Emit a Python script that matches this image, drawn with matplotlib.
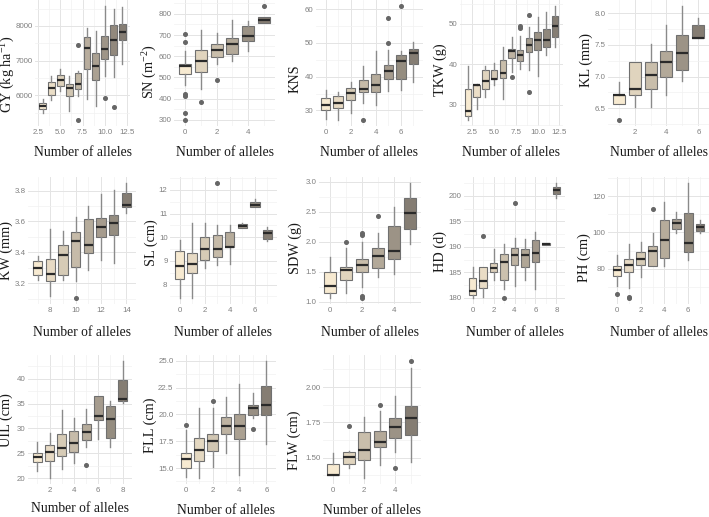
import numpy as np
import matplotlib
matplotlib.use("Agg")
import matplotlib.pyplot as plt
from matplotlib.colors import to_rgb
from matplotlib.ticker import FixedLocator, MultipleLocator

# each box: (whisker low, q1, median, q3, whisker high); outliers keyed by allele count
GY_X = list(range(3, 13))
GY_BOX = [(5500, 5600, 5690, 5770, 5900), (5856, 6000, 6200, 6394, 6558),
          (6125, 6270, 6440, 6590, 6750), (5550, 5980, 6200, 6336, 6560),
          (5980, 6170, 6320, 6650, 6700), (5885, 6750, 7375, 7680, 7930),
          (5690, 6430, 6850, 7210, 7840), (6560, 7040, 7330, 7710, 8580),
          (6530, 7160, 7600, 8030, 8500), (6910, 7590, 7810, 8050, 8530)]
GY_OUT = {7: [7440, 5280], 10: [5910], 11: [5660]}

SN_X = list(range(0, 6))
SN_BOX = [(462, 515, 554, 565, 623), (446, 526, 577, 631, 723),
          (562, 597, 631, 658, 711), (577, 612, 657, 685, 772),
          (623, 674, 695, 742, 766), (757, 757, 769, 785, 785)]
SN_OUT = {0: [703, 666, 423, 412, 331, 298], 1: [385], 2: [488], 5: [838]}

KNS_X = list(range(0, 8))
KNS_BOX = [(27.4, 30.0, 31.7, 33.7, 36.1), (27.1, 30.8, 32.2, 34.2, 35.6),
           (29.3, 33.0, 35.3, 36.6, 38.5), (32.2, 35.6, 36.4, 39.0, 43.2),
           (31.6, 35.6, 37.6, 40.8, 47.5), (35.8, 39.2, 41.7, 43.4, 47.8),
           (36.1, 39.3, 44.6, 46.5, 47.5), (38.3, 43.9, 47.0, 48.3, 50.4)]
KNS_OUT = {3: [27.2], 5: [50.0, 57.3], 6: [61.0]}

TKW_X = list(range(2, 13))
TKW_BOX = [(26.1, 27.1, 28.4, 33.8, 39.5), (29.0, 31.9, 34.9, 34.9, 35.2),
           (31.9, 33.8, 35.8, 38.5, 39.5), (34.8, 36.3, 36.4, 38.5, 40.3),
           (31.3, 36.6, 37.7, 41.1, 44.2), (38.1, 41.5, 43.3, 43.8, 46.7),
           (38.9, 40.7, 42.3, 43.4, 47.1), (38.5, 43.0, 44.8, 46.5, 49.2),
           (37.2, 43.4, 45.9, 48.1, 51.6), (42.2, 44.2, 46.1, 48.8, 52.9),
           (44.2, 46.7, 49.4, 51.9, 54.5)]
TKW_OUT = {7: [36.8], 8: [49.4, 48.9], 9: [52.1, 33.0]}

KL_X = list(range(1, 7))
KL_BOX = [(6.57, 6.57, 6.71, 6.71, 6.92), (6.52, 6.71, 6.81, 7.23, 7.23),
          (6.52, 6.81, 7.02, 7.23, 7.52), (6.71, 7.00, 7.23, 7.41, 7.82),
          (6.93, 7.10, 7.38, 7.66, 8.12), (7.61, 7.61, 7.61, 7.82, 7.92)]
KL_OUT = {1: [6.31]}

KW_X = list(range(7, 15))
KW_BOX = [(3.221, 3.256, 3.299, 3.342, 3.379), (3.120, 3.217, 3.260, 3.357, 3.552),
          (3.221, 3.256, 3.385, 3.450, 3.540), (3.217, 3.308, 3.476, 3.530, 3.627),
          (3.286, 3.394, 3.450, 3.616, 3.703), (3.350, 3.502, 3.562, 3.623, 3.778),
          (3.329, 3.513, 3.590, 3.644, 3.806), (3.653, 3.692, 3.709, 3.783, 3.850)]
KW_OUT = {10: [3.104]}

SL_X = list(range(0, 8))
SL_BOX = [(7.42, 8.24, 8.78, 9.40, 9.90), (7.42, 8.48, 8.88, 9.33, 10.61),
          (8.71, 9.02, 9.48, 9.99, 10.61), (8.81, 9.16, 9.49, 10.09, 10.51),
          (8.88, 9.59, 9.59, 10.20, 10.51), (10.37, 10.40, 10.47, 10.54, 10.58),
          (11.29, 11.29, 11.36, 11.48, 11.60), (9.84, 9.94, 10.16, 10.30, 10.44)]
SL_OUT = {3: [12.3]}

SDW_X = list(range(0, 6))
SDW_BOX = [(1.06, 1.15, 1.26, 1.50, 1.75), (1.14, 1.37, 1.53, 1.58, 1.89),
           (1.25, 1.49, 1.62, 1.71, 2.00), (1.42, 1.57, 1.76, 1.90, 2.15),
           (1.47, 1.71, 1.84, 2.26, 2.57), (1.97, 2.21, 2.47, 2.72, 2.98)]
SDW_OUT = {1: [2.0], 2: [2.15, 2.11, 1.09, 1.06], 3: [2.42]}

HD_X = list(range(0, 9))
HD_BOX = [(180.0, 180.5, 181.4, 183.8, 186.0), (180.1, 182.0, 183.2, 186.0, 186.0),
          (183.5, 185.1, 185.8, 186.9, 189.6), (181.8, 183.5, 187.1, 188.6, 190.6),
          (182.3, 186.5, 188.4, 189.8, 191.7), (183.4, 186.1, 188.4, 189.6, 191.6),
          (181.8, 187.1, 188.8, 191.4, 192.9), (190.3, 190.4, 190.5, 190.7, 190.8),
          (199.7, 200.3, 201.1, 201.8, 202.6)]
HD_OUT = {1: [192.2], 3: [179.9], 4: [198.7]}

PH_X = list(range(0, 8))
PH_BOX = [(70.6, 76.1, 79.4, 81.3, 87.7), (69.3, 77.9, 81.8, 85.3, 93.8),
          (75.4, 82.2, 85.3, 89.0, 94.5), (81.3, 81.6, 89.6, 92.7, 99.7),
          (81.3, 85.9, 95.6, 106.7, 116.9), (99.7, 101.9, 105.2, 107.5, 111.1),
          (85.0, 89.0, 94.2, 110.8, 127.4), (99.7, 101.0, 103.0, 104.9, 106.7)]
PH_OUT = {0: [66.1], 1: [64.6, 63.7], 3: [113.0]}

UIL_X = list(range(1, 9))
UIL_BOX = [(21.5, 23.3, 24.2, 25.1, 27.2), (20.0, 23.4, 25.3, 26.6, 29.1),
           (21.8, 24.4, 26.0, 28.8, 33.8), (23.0, 25.3, 27.0, 29.5, 32.2),
           (26.3, 27.6, 29.3, 30.8, 33.9), (27.9, 31.8, 32.6, 36.5, 36.5),
           (26.3, 28.1, 31.9, 34.6, 35.5), (35.2, 35.5, 36.0, 39.8, 43.6)]
UIL_OUT = {5: [22.7]}

FLL_X = list(range(0, 7))
FLL_BOX = [(14.16, 15.00, 15.81, 16.44, 18.53), (14.06, 15.66, 16.66, 17.84, 20.63),
           (15.09, 16.56, 17.50, 18.22, 20.63), (16.44, 18.22, 18.94, 19.78, 21.66),
           (14.38, 17.75, 18.91, 20.00, 22.81), (19.69, 19.94, 20.56, 20.88, 21.97),
           (17.20, 19.94, 20.88, 22.66, 25.00)]
FLL_OUT = {0: [19.06], 2: [21.25], 5: [18.63]}

FLW_X = list(range(0, 6))
FLW_BOX = [(1.375, 1.375, 1.380, 1.459, 1.531), (1.428, 1.459, 1.507, 1.543, 1.548),
           (1.356, 1.483, 1.555, 1.683, 1.788), (1.447, 1.579, 1.608, 1.692, 1.832),
           (1.543, 1.639, 1.716, 1.779, 1.940), (1.471, 1.663, 1.779, 1.863, 2.132)]
FLW_OUT = {1: [1.728], 3: [1.873], 4: [1.428], 5: [2.185]}

plt.rcParams["mathtext.fontset"] = "custom"
plt.rcParams["mathtext.rm"] = "Liberation Serif"
plt.rcParams["mathtext.it"] = "Liberation Serif:italic"

W, H = 709, 517
fig = plt.figure(figsize=(W / 100, H / 100), dpi=100)

LIGHT = np.array(to_rgb("#F7EAD1"))
DARK = np.array(to_rgb("#857D73"))


def shades(n):
    return [tuple(LIGHT + (DARK - LIGHT) * t) for t in np.linspace(0, 1, n)]


def panel(rect, xs, boxes, out, ylab, xt, xfmt, yt, yfmt, lab_pos):
    l, r, t, b = rect
    ax = fig.add_axes([l / W, 1 - b / H, (r - l) / W, (b - t) / H])
    stats = []
    for x, (lo, q1, med, q3, hi) in zip(xs, boxes):
        stats.append(dict(whislo=lo, q1=q1, med=med, q3=q3, whishi=hi,
                          fliers=out.get(x, [])))
    bp = ax.bxp(stats, positions=xs, widths=0.75, patch_artist=True,
                showcaps=False, manage_ticks=False,
                boxprops=dict(edgecolor="#707070", linewidth=0.8),
                whiskerprops=dict(color="#8a8a8a", linewidth=1.0),
                medianprops=dict(color="#2a2a2a", linewidth=1.6),
                flierprops=dict(marker="o", markersize=2.6, markerfacecolor="#666666",
                                markeredgecolor="#666666", linestyle="none"))
    for patch, c in zip(bp["boxes"], shades(len(xs))):
        patch.set_facecolor(c)

    span = xs[-1] - xs[0] + 0.75
    ax.set_xlim(xs[0] - 0.375 - 0.05 * span, xs[-1] + 0.375 + 0.05 * span)
    ax.margins(y=0.05)
    ax.autoscale(axis="y")

    ax.xaxis.set_major_locator(FixedLocator(xt))
    ax.set_xticklabels([xfmt.format(v) for v in xt])
    ax.xaxis.set_minor_locator(MultipleLocator((xt[1] - xt[0]) / 2))
    ax.yaxis.set_major_locator(FixedLocator(yt))
    ax.set_yticklabels([yfmt.format(v) for v in yt])
    ax.yaxis.set_minor_locator(MultipleLocator((yt[1] - yt[0]) / 2))

    ax.set_axisbelow(True)
    ax.grid(True, which="major", color="#e4e4e4", linewidth=0.7)
    ax.grid(True, which="minor", color="#f1f1f1", linewidth=0.5)
    for s in ax.spines.values():
        s.set_visible(False)
    ax.tick_params(which="both", length=0, labelsize=5.7, colors="#808080", pad=1.8)
    for lbl in ax.get_xticklabels() + ax.get_yticklabels():
        lbl.set_fontfamily("Liberation Sans")

    ax.set_xlabel("Number of alleles", family="Liberation Serif", fontsize=9.8,
                  color="#1a1a1a", va="center", ha="center")
    ax.xaxis.set_label_coords(0.5, (b - lab_pos[2]) / (b - t))
    ax.set_ylabel(ylab, family="Liberation Serif", fontsize=10.3,
                  color="#1a1a1a", va="center", ha="center")
    ax.yaxis.set_label_coords((lab_pos[0] - l) / (r - l), (b - lab_pos[1]) / (b - t))
    return ax


half = [2.5, 5.0, 7.5, 10.0, 12.5]

panel((35, 130, 0, 126), GY_X, GY_BOX, GY_OUT, r"GY (kg ha$^{-1}$)",
      half, "{:.1f}", [6000, 7000, 8000], "{:.0f}", (8, 74, 152))
panel((174, 275, 0, 126), SN_X, SN_BOX, SN_OUT, r"SN (m$^{-2}$)",
      [0, 2, 4], "{:d}", [300, 400, 500, 600, 700, 800], "{:d}", (150, 72, 152))
panel((316, 423, 0, 126), KNS_X, KNS_BOX, KNS_OUT, "KNS",
      [0, 2, 4, 6], "{:d}", [30, 40, 50, 60], "{:d}", (295, 79, 152))
panel((460, 563, 0, 126), TKW_X, TKW_BOX, TKW_OUT, "TKW (g)",
      half, "{:.1f}", [30, 40, 50], "{:d}", (440, 70, 152))
panel((608, 709, 0, 126), KL_X, KL_BOX, KL_OUT, "KL (mm)",
      [2, 4, 6], "{:d}", [6.5, 7.0, 7.5, 8.0], "{:.1f}", (586, 60, 152))

panel((28, 136, 177, 304), KW_X, KW_BOX, KW_OUT, "KW (mm)",
      [8, 10, 12, 14], "{:d}", [3.2, 3.4, 3.6, 3.8], "{:.1f}", (6, 250, 333))
panel((170, 277, 177, 304), SL_X, SL_BOX, SL_OUT, "SL (cm)",
      [0, 2, 4, 6], "{:d}", [8, 9, 10, 11, 12], "{:d}", (151, 243, 332))
panel((319, 421, 177, 304), SDW_X, SDW_BOX, SDW_OUT, "SDW (g)",
      [0, 2, 4], "{:d}", [1.0, 1.5, 2.0, 2.5, 3.0], "{:.1f}", (295, 248, 333))
panel((464, 565, 177, 304), HD_X, HD_BOX, HD_OUT, "HD (d)",
      [0, 2, 4, 6, 8], "{:d}", [180, 185, 190, 195, 200], "{:d}", (440, 252, 333))
panel((608, 709, 177, 304), PH_X, PH_BOX, PH_OUT, "PH (cm)",
      [0, 2, 4, 6], "{:d}", [60, 80, 100, 120], "{:d}", (584, 258, 333))

panel((28, 132, 355, 484), UIL_X, UIL_BOX, UIL_OUT, "UIL (cm)",
      [2, 4, 6, 8], "{:d}", [20, 25, 30, 35, 40], "{:d}", (6, 420, 509))
panel((176, 276, 355, 484), FLL_X, FLL_BOX, FLL_OUT, "FLL (cm)",
      [0, 2, 4, 6], "{:d}", [15.0, 17.5, 20.0, 22.5, 25.0], "{:.1f}", (150, 425, 510))
panel((323, 421, 355, 484), FLW_X, FLW_BOX, FLW_OUT, "FLW (cm)",
      [0, 2, 4], "{:d}", [1.50, 1.75, 2.00], "{:.2f}", (294, 440, 510))

fig.savefig("out.png", dpi=100)
